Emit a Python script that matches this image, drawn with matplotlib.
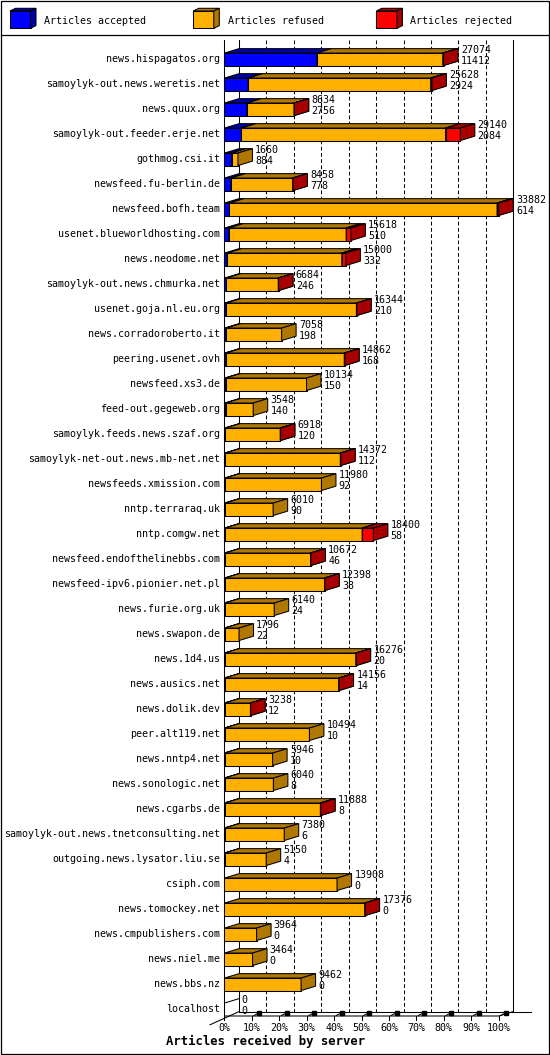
import matplotlib
matplotlib.use("Agg")
import matplotlib.pyplot as plt
from matplotlib.patches import Polygon, Rectangle
from matplotlib.lines import Line2D
from matplotlib.transforms import Affine2D

# ---------------- data ----------------
servers = [
    "news.hispagatos.org", "samoylyk-out.news.weretis.net", "news.quux.org",
    "samoylyk-out.feeder.erje.net", "gothmog.csi.it", "newsfeed.fu-berlin.de",
    "newsfeed.bofh.team", "usenet.blueworldhosting.com", "news.neodome.net",
    "samoylyk-out.news.chmurka.net", "usenet.goja.nl.eu.org", "news.corradoroberto.it",
    "peering.usenet.ovh", "newsfeed.xs3.de", "feed-out.gegeweb.org",
    "samoylyk.feeds.news.szaf.org", "samoylyk-net-out.news.mb-net.net",
    "newsfeeds.xmission.com", "nntp.terraraq.uk", "nntp.comgw.net",
    "newsfeed.endofthelinebbs.com", "newsfeed-ipv6.pionier.net.pl", "news.furie.org.uk",
    "news.swapon.de", "news.1d4.us", "news.ausics.net", "news.dolik.dev",
    "peer.alt119.net", "news.nntp4.net", "news.sonologic.net", "news.cgarbs.de",
    "samoylyk-out.news.tnetconsulting.net", "outgoing.news.lysator.liu.se",
    "csiph.com", "news.tomockey.net", "news.cmpublishers.com", "news.niel.me",
    "news.bbs.nz", "localhost",
]
totals = [27074, 25628, 8634, 29140, 1660, 8458, 33882, 15618, 15000, 6684,
          16344, 7058, 14862, 10134, 3548, 6918, 14372, 11980, 6010, 18400,
          10672, 12398, 6140, 1796, 16276, 14156, 3238, 10494, 5946, 6040,
          11888, 7380, 5150, 13908, 17376, 3964, 3464, 9462, 0]
accepted = [11412, 2924, 2756, 2084, 884, 778, 614, 510, 332, 246,
            210, 198, 168, 150, 140, 120, 112, 92, 90, 58,
            46, 38, 24, 22, 20, 14, 12, 10, 10, 8,
            8, 6, 4, 0, 0, 0, 0, 0, 0]
rejected = [100, 150, 40, 1820, 0, 30, 200, 580, 500, 40,
            40, 0, 60, 0, 0, 30, 60, 0, 0, 1390,
            40, 40, 0, 0, 40, 40, 30, 0, 0, 0,
            40, 0, 0, 0, 40, 0, 0, 0, 0]
refused = [t - a - r for t, a, r in zip(totals, accepted, rejected)]

legend_labels = ["Articles accepted", "Articles refused", "Articles rejected"]
tick_labels = [f"{k}%" for k in range(0, 101, 10)]
title = "Articles received by server"

front_cols = ["#0000FF", "#FFB000", "#FF0000"]
dark_cols = ["#0000A8", "#B07800", "#A80000"]

# ---------------- layout ----------------
W, H = 550, 1055
fig = plt.figure(figsize=(W / 100, H / 100), dpi=100)
ax = fig.add_axes([0, 0, 1, 1])
ax.axis("off")

X0, PXU, Y0, ROW = 224.5, 2.742, 59.3, 25.0
ax.set_xlim(-X0 / PXU, (W - X0) / PXU)
ax.set_ylim((H - Y0) / ROW, -Y0 / ROW)
DX = 14.5 / PXU
DY = 4.4 / ROW
BH = 12.5 / ROW
LW = 0.75
MONO = "DejaVu Sans Mono"
FS = 7.2

# pixel transform for decorations (x px, y px from top)
PX = Affine2D().scale(1 / W, -1 / H).translate(0, 1) + fig.transFigure

n = len(servers)
mx = max(totals)
pct = lambda v: v / mx * 100.0

y_top = (40 - Y0) / ROW
y_front = (1016 - Y0) / ROW
y_back = y_front - DY

# frame + legend separator
fig.add_artist(Rectangle((0.7, 0.7), W - 1.6, H - 1.6, transform=PX, fill=False,
                         ec="black", lw=0.9))
fig.add_artist(Line2D([0.5, W - 0.5], [34.7, 34.7], transform=PX, color="black", lw=0.9))

# legend
lx = [10.0, 193.3, 376.4]
tx = [44.3, 227.6, 410.4]
for k in range(3):
    x0, y0, w, h, dx, dy = lx[k], 11.0, 20.5, 17.3, 5.5, 2.7
    fig.add_artist(Rectangle((x0, y0), w, h, transform=PX, fc=front_cols[k], ec="black", lw=LW))
    fig.add_artist(Polygon([(x0, y0), (x0 + w, y0), (x0 + w + dx, y0 - dy), (x0 + dx, y0 - dy)],
                           closed=True, transform=PX, fc=dark_cols[k], ec="black", lw=LW))
    fig.add_artist(Polygon([(x0 + w, y0), (x0 + w, y0 + h), (x0 + w + dx, y0 + h - dy),
                            (x0 + w + dx, y0 - dy)],
                           closed=True, transform=PX, fc=dark_cols[k], ec="black", lw=LW))
    fig.text(tx[k] / W, 1 - 20.7 / H, legend_labels[k], family=MONO, fontsize=FS,
             va="center", ha="left")

# axes lines
ax.plot([0, 0], [y_top, y_front], color="black", lw=LW, zorder=2)
ax.plot([DX, DX], [y_top, y_back], color="black", lw=LW, zorder=2)
ax.plot([100 + DX, 100 + DX], [y_top, y_back], color="black", lw=LW, zorder=2)
ax.plot([DX, 100 + DX + 18.0 / PXU], [y_back, y_back], color="black", lw=LW, zorder=2)
ax.plot([0, 100, 100 + DX], [y_front, y_front, y_back], color="black", lw=LW, zorder=2)
ax.plot([-DX, DX], [y_front + 2 * DY, y_back], color="black", lw=LW, zorder=2)

# grid (back plane)
for k in range(1, 10):
    ax.plot([k * 10 + DX, k * 10 + DX], [y_top, y_back], color="black", lw=LW,
            dashes=(3.6, 2.4), zorder=1)

# x ticks
for k in range(11):
    xf = k * 10
    ax.plot([xf, xf], [y_front, y_front + 3.5 / ROW], color="black", lw=LW, zorder=2)
    if k > 0:
        ax.plot([xf + 2 / PXU, xf + 7 / PXU], [y_front - 0.5 / ROW, y_front - 3 / ROW],
                color="black", lw=LW, zorder=2)
        ax.plot([xf + 7.5 / PXU], [y_front - 3.2 / ROW], marker="s", ms=2.2,
                color="black", zorder=2)
    ax.text(xf, (1028.3 - Y0) / ROW, tick_labels[k], family=MONO, fontsize=FS,
            ha="center", va="center")

# bars
series = [accepted, refused, rejected]
left = [0.0] * n
for k, vals in enumerate(series):
    widths = [pct(v) for v in vals]
    idx = [i for i in range(n) if vals[i] > 0]
    ax.barh(idx, [widths[i] for i in idx], left=[left[i] for i in idx], height=BH,
            color=front_cols[k], edgecolor="black", linewidth=LW, zorder=3 + k)
    for i in idx:
        x0 = left[i]
        x1 = x0 + widths[i]
        yt, yb = i - BH / 2, i + BH / 2
        ax.add_patch(Polygon([(x0, yt), (x1, yt), (x1 + DX, yt - DY), (x0 + DX, yt - DY)],
                             closed=True, fc=dark_cols[k], ec="black", lw=LW, zorder=3 + k))
        ax.add_patch(Polygon([(x1, yt), (x1, yb), (x1 + DX, yb - DY), (x1 + DX, yt - DY)],
                             closed=True, fc=dark_cols[k], ec="black", lw=LW, zorder=3 + k))
    left = [left[i] + widths[i] for i in range(n)]

# zero-total rows: just the collapsed top edge
for i in range(n):
    if totals[i] == 0:
        yt = i - BH / 2
        ax.plot([0, DX], [yt, yt - DY], color="black", lw=LW, zorder=3)

# value labels and category labels
for i in range(n):
    xe = pct(totals[i]) + DX + 1.0
    ax.text(xe, i - 0.38, str(totals[i]), family=MONO, fontsize=FS, ha="left",
            va="center", zorder=10)
    ax.text(xe, i + 0.06, str(accepted[i]), family=MONO, fontsize=FS, ha="left",
            va="center", zorder=10)
    ax.text(-1.55, i, servers[i], family=MONO, fontsize=FS, ha="right", va="center")

fig.text(266 / W, 1 - 1041.7 / H, title, family=MONO, fontsize=8.8, weight="bold",
         ha="center", va="center")

fig.savefig("out.png", dpi=100)
